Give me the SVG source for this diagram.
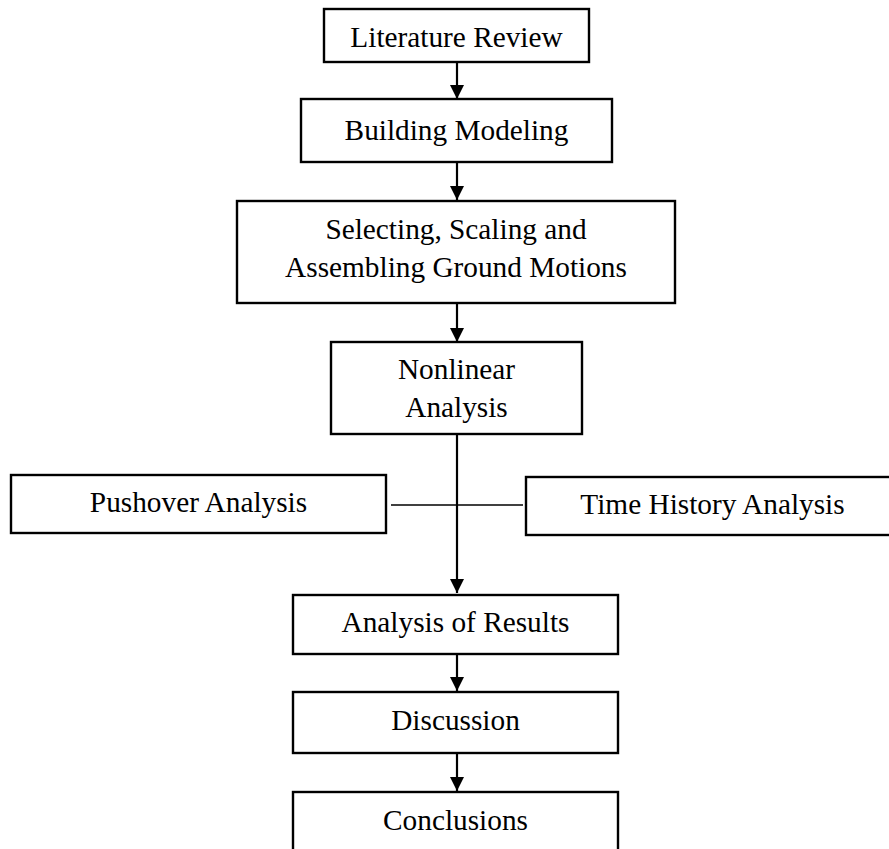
<svg xmlns="http://www.w3.org/2000/svg" width="889" height="849" viewBox="0 0 889 849">
<style>
.box{fill:#fff;stroke:#000;stroke-width:2.4}
text{font-family:"Liberation Serif","Times New Roman",serif;font-size:29.3px;fill:#000;text-anchor:middle}
.con{stroke:#000;stroke-width:2.2;fill:none}
.thin{stroke:#000;stroke-width:1.6;fill:none}
</style>
<defs>
<marker id="arr" markerUnits="userSpaceOnUse" markerWidth="14" markerHeight="14" refX="14" refY="7" orient="auto" viewBox="0 0 14 14">
<path d="M0,0 L14,7 L0,14 Z" fill="#000"/>
</marker>
</defs>
<g id="connectors">
<line class="con" x1="457" y1="62" x2="457" y2="99" marker-end="url(#arr)"/>
<line class="con" x1="457" y1="162" x2="457" y2="200" marker-end="url(#arr)"/>
<line class="con" x1="457" y1="303" x2="457" y2="342" marker-end="url(#arr)"/>
<line class="con" x1="457" y1="434" x2="457" y2="593" marker-end="url(#arr)"/>
<line class="thin" x1="391" y1="505" x2="523" y2="505"/>
<line class="con" x1="457" y1="654" x2="457" y2="691" marker-end="url(#arr)"/>
<line class="con" x1="457" y1="753" x2="457" y2="791" marker-end="url(#arr)"/>
</g>
<g id="literature-review">
<rect class="box" x="324" y="9" width="265" height="53"/>
<text x="456.5" y="47">Literature Review</text>
</g>
<g id="building-modeling">
<rect class="box" x="301" y="99" width="311" height="63"/>
<text x="456.5" y="140">Building Modeling</text>
</g>
<g id="ground-motions">
<rect class="box" x="237" y="201" width="438" height="102"/>
<text x="456" y="239">Selecting, Scaling and</text>
<text x="456" y="277">Assembling Ground Motions</text>
</g>
<g id="nonlinear-analysis">
<rect class="box" x="331" y="342" width="251" height="92"/>
<text x="456.5" y="379">Nonlinear</text>
<text x="456.5" y="417">Analysis</text>
</g>
<g id="pushover-analysis">
<rect class="box" x="11" y="475" width="375" height="58"/>
<text x="198.5" y="512">Pushover Analysis</text>
</g>
<g id="time-history-analysis">
<rect class="box" x="526" y="477" width="373" height="58"/>
<text x="712.5" y="514">Time History Analysis</text>
</g>
<g id="analysis-of-results">
<rect class="box" x="293" y="595" width="325" height="59"/>
<text x="455.5" y="632">Analysis of Results</text>
</g>
<g id="discussion">
<rect class="box" x="293" y="692" width="325" height="61"/>
<text x="455.5" y="730">Discussion</text>
</g>
<g id="conclusions">
<rect class="box" x="293" y="792" width="325" height="70"/>
<text x="455.5" y="830">Conclusions</text>
</g>
</svg>
